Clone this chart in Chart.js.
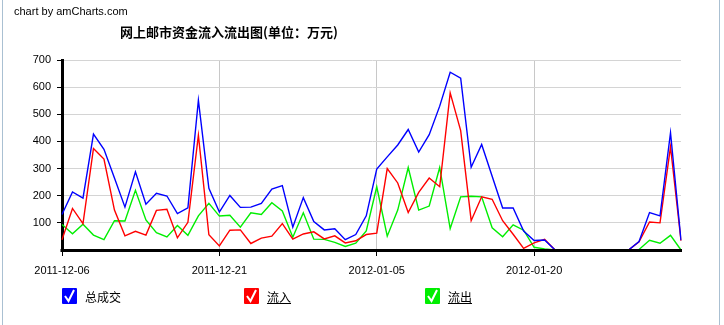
<!DOCTYPE html>
<html>
<head>
<meta charset="utf-8">
<script src="https://cdn.jsdelivr.net/npm/chart.js@4/dist/chart.umd.min.js"></script>
<style>
  html, body { margin: 0; padding: 0; background: #fff; }
  #wrap { position: relative; width: 724px; height: 325px; overflow: hidden; font-family: "Liberation Sans", Arial, sans-serif; }
  #wrap:before, #wrap:after { content: ''; position: absolute; top: 0; bottom: 0; width: 1px; background: #aac0d2; }
  #wrap:before { left: 2px; }
  #wrap:after { left: 719px; }
  canvas { position: absolute; left: 0; top: 0; }
  .credit { position: absolute; left: 14px; top: 5px; font-size: 11px; color: #000; }
  .title { position: absolute; left: 120px; top: 22px; font: bold 13px "Noto Sans CJK SC", sans-serif; color: #000; }
  .legend-item { position: absolute; top: 288px; height: 16px; font: 12px "Noto Sans CJK SC", sans-serif; color: #000; line-height: 16px; }
  .legend-item svg { position: absolute; left: 0; top: 0; }
  .legend-item span { position: absolute; left: 23px; top: 1px; white-space: nowrap; }
  .legend-item.link span { text-decoration: underline; }
</style>
</head>
<body>
<div id="wrap">
  <canvas id="flowChart" width="724" height="325"></canvas>
  <div class="credit">chart by amCharts.com</div>
  <div class="title">网上邮市资金流入流出图(单位：万元)</div>
  <div id="legend"></div>
</div>
<script>
// ===========================
// DATA
// ===========================
const dates = [
  '2011-12-06', '2011-12-07', '2011-12-08', '2011-12-09', '2011-12-10', '2011-12-11', '2011-12-12', '2011-12-13',
  '2011-12-14', '2011-12-15', '2011-12-16', '2011-12-17', '2011-12-18', '2011-12-19', '2011-12-20', '2011-12-21',
  '2011-12-22', '2011-12-23', '2011-12-24', '2011-12-25', '2011-12-26', '2011-12-27', '2011-12-28', '2011-12-29',
  '2011-12-30', '2011-12-31', '2012-01-01', '2012-01-02', '2012-01-03', '2012-01-04', '2012-01-05', '2012-01-06',
  '2012-01-07', '2012-01-08', '2012-01-09', '2012-01-10', '2012-01-11', '2012-01-12', '2012-01-13', '2012-01-14',
  '2012-01-15', '2012-01-16', '2012-01-17', '2012-01-18', '2012-01-19', '2012-01-20', '2012-01-21', '2012-01-22',
  '2012-01-23', '2012-01-24', '2012-01-25', '2012-01-26', '2012-01-27', '2012-01-28', '2012-01-29', '2012-01-30',
  '2012-01-31', '2012-02-01', '2012-02-02', '2012-02-03'
];

const tickLabels = ['2011-12-06', '2011-12-21', '2012-01-05', '2012-01-20'];

// 总成交
const totalValues = [
  131, 214, 191, 427, 371, 265, 158, 288, 169, 209, 199, 134, 155, 552, 227, 140,
  201, 157, 158, 172, 224, 237, 84, 193, 105, 74, 78, 38, 57, 126, 298, 343,
  387, 444, 361, 425, 530, 655, 633, 305, 389, 272, 155, 155, 70, 35, 37, 0,
  0, 0, 0, 0, 0, 0, 0, 31, 138, 126, 432, 36
];

// 流入
const inflowValues = [
  38, 153, 97, 374, 335, 147, 52, 69, 55, 146, 150, 45, 102, 423, 56, 15,
  73, 74, 24, 44, 51, 97, 40, 59, 67, 41, 52, 26, 34, 57, 62, 300,
  247, 138, 212, 265, 233, 579, 440, 108, 196, 187, 108, 58, 6, 26, 39, 0,
  0, 0, 0, 0, 0, 0, 0, 30, 103, 100, 380, 34
];

// 流出
const outflowValues = [
  94, 60, 95, 55, 38, 108, 107, 220, 111, 64, 48, 90, 54, 126, 172, 125,
  128, 84, 137, 131, 174, 144, 47, 137, 40, 39, 28, 13, 25, 70, 233, 51,
  147, 304, 147, 162, 304, 79, 196, 198, 196, 82, 49, 93, 73, 10, 4, 0,
  0, 0, 0, 0, 0, 0, 0, 2, 36, 25, 54, 0
];

const seriesNames = ['总成交', '流入', '流出'];
const seriesColors = ['#0000ff', '#ff0000', '#00ee00'];

// ===========================
// AXIS LINE ON TOP OF LINES
// ===========================
const axisOnTop = {
  id: 'axisOnTop',
  afterDatasetsDraw(chart) {
    const { ctx, chartArea } = chart;
    ctx.save();
    ctx.strokeStyle = '#000';
    ctx.lineWidth = 3;
    ctx.beginPath();
    ctx.moveTo(chartArea.left - 1.5, chartArea.bottom + 0.5);
    ctx.lineTo(chartArea.right + 1, chartArea.bottom + 0.5);
    ctx.stroke();
    ctx.restore();
  }
};

// ===========================
// CHART
// ===========================
const ctx = document.getElementById('flowChart').getContext('2d');
new Chart(ctx, {
  type: 'line',
  data: {
    labels: dates,
    datasets: [totalValues, inflowValues, outflowValues].map((vals, i) => ({
      label: seriesNames[i],
      data: vals,
      borderColor: seriesColors[i],
      borderWidth: 1.4,
      pointRadius: 0,
      tension: 0,
      fill: false
    }))
  },
  options: {
    responsive: false,
    animation: false,
    layout: { padding: { left: 0, right: 43, top: 60, bottom: 0 } },
    plugins: { legend: { display: false }, tooltip: { enabled: false } },
    scales: {
      x: {
        afterFit: (scale) => { scale.height = 75; },
        grid: { color: '#c8c8c8', tickColor: '#000', tickLength: 6, lineWidth: 1 },
        border: { color: '#000', width: 3 },
        ticks: {
          autoSkip: false,
          maxRotation: 0,
          padding: 8,
          color: '#000',
          font: { family: 'Liberation Sans', size: 11 },
          callback: (val, i) => tickLabels.includes(dates[i]) ? dates[i] : null
        }
      },
      y: {
        min: 0,
        max: 700,
        afterFit: (scale) => { scale.width = 62; },
        grid: { color: '#d4d4d4', tickColor: '#000', tickLength: 5 },
        border: { color: '#000', width: 3 },
        ticks: {
          stepSize: 100,
          padding: 6,
          color: '#000',
          font: { family: 'Liberation Sans', size: 11 },
          callback: (val) => val === 0 ? null : val
        }
      }
    }
  },
  plugins: [axisOnTop]
});

// ===========================
// LEGEND (checkbox style)
// ===========================
const legendX = [62, 244, 425];
const legendEl = document.getElementById('legend');
seriesNames.forEach((name, i) => {
  const item = document.createElement('div');
  item.className = 'legend-item' + (i > 0 ? ' link' : '');
  item.style.left = legendX[i] + 'px';
  item.innerHTML =
    '<svg width="15" height="16"><rect x="0" y="0" width="15" height="16" rx="1" fill="' + seriesColors[i] + '"/>' +
    '<path d="M3 8 L6.5 13 L12 2" stroke="#fff" stroke-width="2" fill="none"/></svg>' +
    '<span>' + name + '</span>';
  legendEl.appendChild(item);
});
</script>
</body>
</html>
